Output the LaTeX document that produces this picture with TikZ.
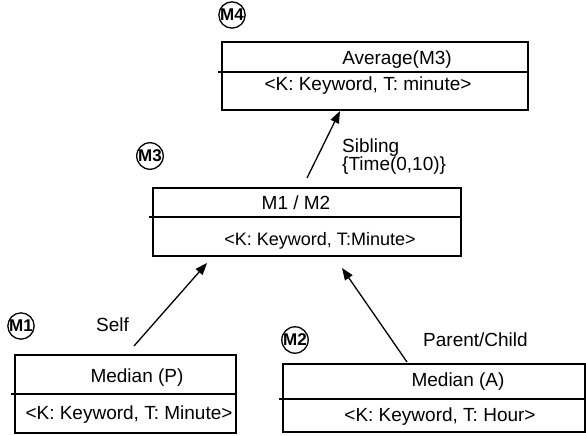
\documentclass[tikz,border=0pt]{standalone}
\usepackage{fontspec}
\setmainfont{Liberation Sans}
\usetikzlibrary{arrows.meta}
\begin{document}
\begin{tikzpicture}[x=1pt,y=-1pt,
  frame/.style={draw, line width=1.6pt, inner sep=0pt},
  txt/.style={font=\fontsize{19}{22}\selectfont, inner sep=0pt},
  smalltxt/.style={font=\fontsize{18}{21}\selectfont, inner sep=0pt},
  lbl/.style={font=\fontsize{19}{22}\selectfont, inner sep=0pt, anchor=west},
  tag/.style={draw, circle, line width=1.3pt, minimum size=26pt, inner sep=0pt,
              font=\fontsize{17}{19}\selectfont\bfseries},
  link/.style={line width=1.3pt, -{Triangle[length=12pt,width=9pt]}},
  divider/.style={line width=1.6pt}]
\useasboundingbox (0,0) rectangle (586,436);

% measure boxes: frame plus a dividing rule
\node[frame, minimum width=306pt, minimum height=68pt] (b4) at (375,76) {};
\draw[divider] ([xshift=-3pt]b4.west |- 0,72) -- (b4.east |- 0,72);
\node[frame, minimum width=308pt, minimum height=68pt] (b3) at (307,222) {};
\draw[divider] ([xshift=-3pt]b3.west |- 0,217) -- (b3.east |- 0,217);
\node[frame, minimum width=221pt, minimum height=78pt] (b1) at (125.5,394) {};
\draw[divider] ([xshift=-3pt]b1.west |- 0,394) -- (b1.east |- 0,394);
\node[frame, minimum width=302pt, minimum height=68pt] (b2) at (434,398) {};
\draw[divider] ([xshift=-3pt]b2.west |- 0,399) -- (b2.east |- 0,399);

% box contents
\node[txt] (t4a) at (397,60) {Average(M3)};
\node[txt] (t4b) at (368,86) {<K: Keyword, T: minute>};
\node[txt] (t3a) at (296,203) {M1 / M2};
\node[smalltxt] (t3b) at (320,241) {<K: Keyword, T:Minute>};
\node[txt] (t1a) at (137,378) {Median (P)};
\node[txt] (t1b) at (129,415) {<K: Keyword, T: Minute>};
\node[txt] (t2a) at (458,382) {Median (A)};
\node[txt] (t2b) at (440,417) {<K: Keyword, T: Hour>};

% circled tags
\node[tag] (m4) at (232,15) {M4};
\node[tag] (m3) at (150,156) {M3};
\node[tag] (m1) at (21,326) {M1};
\node[tag] (m2) at (295,340) {M2};

% connector labels
\node[lbl] (lsib) at (342,148) {Sibling};
\node[lbl] (ltime) at (342,166) {\{Time(0,10)\}};
\node[lbl] (lself) at (96,325) {Self};
\node[lbl] (lpc) at (423,340) {Parent/Child};

% connector ends
\coordinate (s3) at (307,178);
\coordinate (e4) at (340,111);
\coordinate (s1) at (134,346);
\coordinate (e3a) at (207,263);
\coordinate (s2) at (407,362);
\coordinate (e3b) at (342,268);

\draw[link] (s3) -- (e4);
\draw[link] (s1) -- (e3a);
\draw[link] (s2) -- (e3b);
\end{tikzpicture}
\end{document}
